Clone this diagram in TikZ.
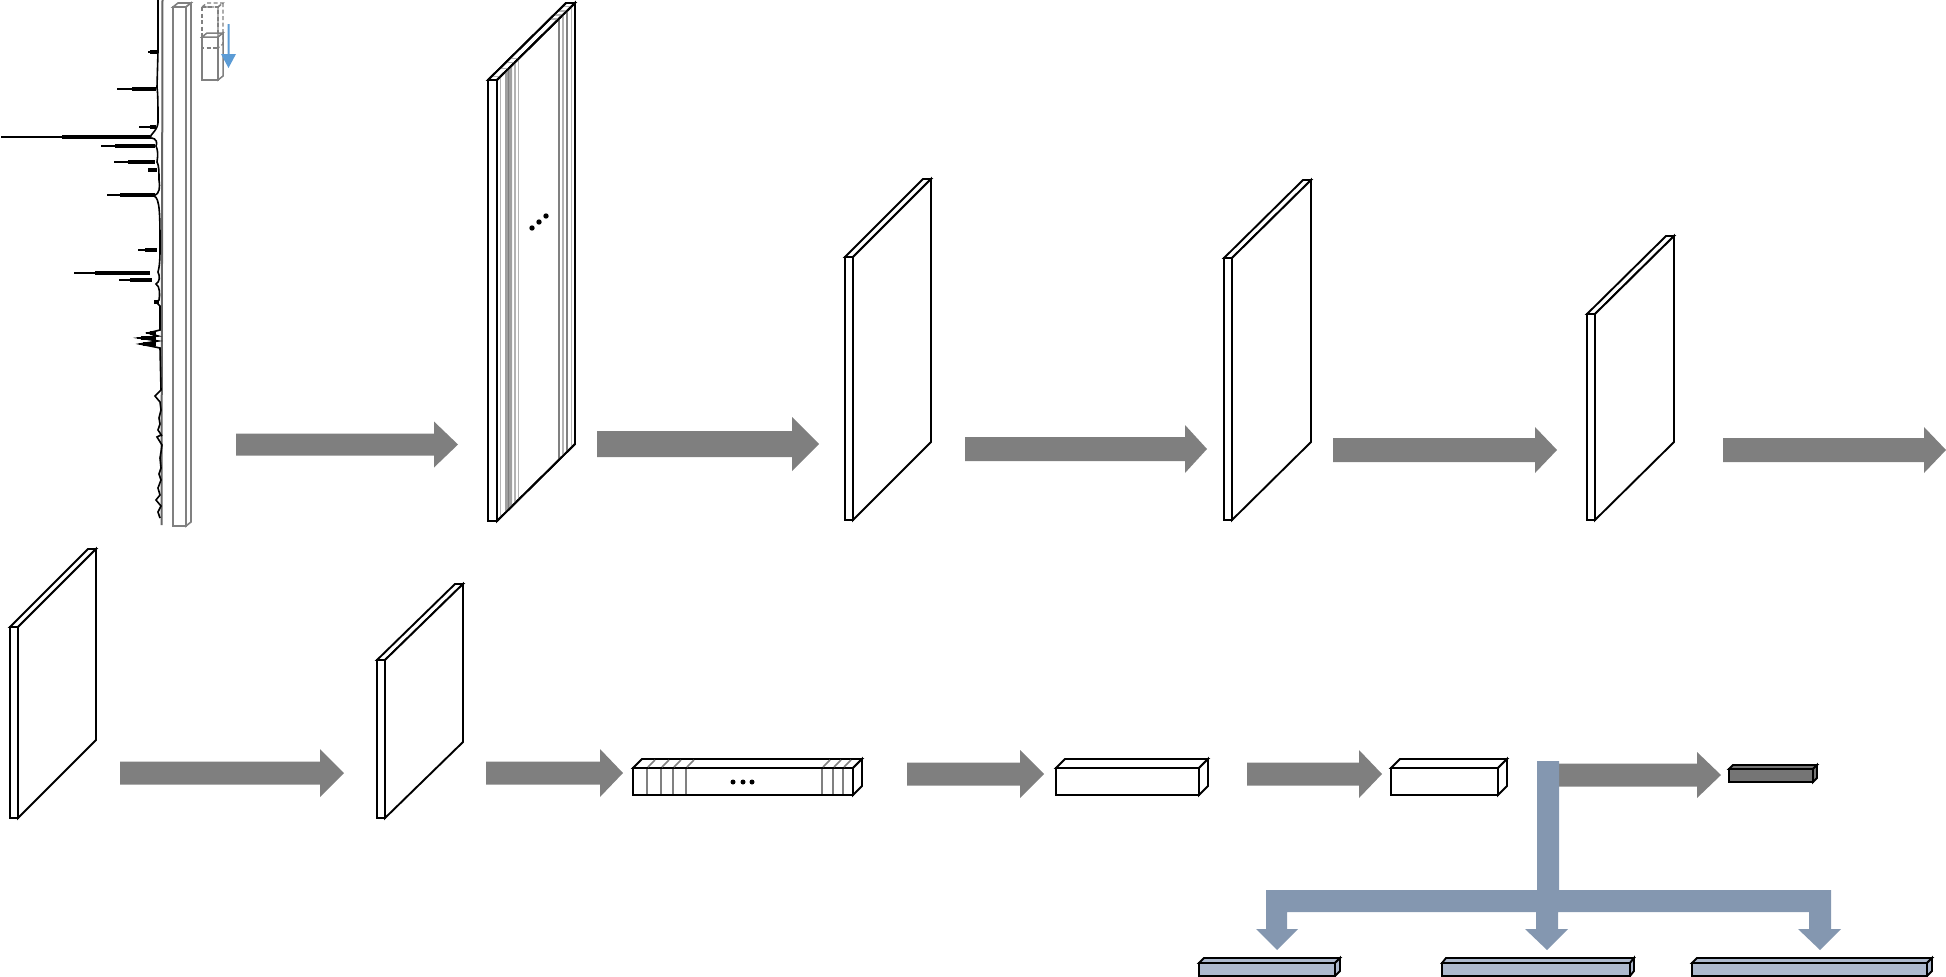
\documentclass[tikz,border=0pt]{standalone}
\definecolor{arrowgray}{HTML}{7F7F7F}
\definecolor{flowblue}{HTML}{8497B0}
\definecolor{barblue}{HTML}{ADB9CE}
\definecolor{darkbox}{HTML}{757575}
\definecolor{scanblue}{HTML}{5B9BD5}
\definecolor{linegray}{HTML}{808080}
\tikzset{
  edge/.style={draw=black,line width=1.9pt,line join=miter,fill=white},
  columnbox/.style={draw=linegray,line width=1.6pt,fill=white},
  dashbox/.style={draw=linegray,line width=1.4pt,dash pattern=on 4pt off 2.5pt,fill=none},
  slidebox/.style={draw=linegray,line width=1.5pt,fill=white},
  outbox/.style={draw=black,line width=1.9pt,fill=barblue},
  darkout/.style={draw=black,line width=1.9pt,fill=darkbox},
  stripe/.style={draw=linegray,line width=1.6pt},
  lightstripe/.style={draw=linegray!60,line width=1.4pt},
  flatarrow/.style={fill=arrowgray,draw=none},
  bluearrow/.style={fill=flowblue,draw=none},
  trace/.style={draw=black,line width=1.6pt},
  peakthin/.style={draw=black,line width=1.5pt},
  peakfat/.style={draw=black,line width=3.4pt},
  outline/.style={draw=black,line width=1.9pt,fill=none},
  dotmark/.style={fill=black,draw=none}
}
% box: style, x1, y1 (front top-left), x2, y2 (front bottom-right), dx, dy
\newcommand\cuboid[7]{%
  \path[#1] (#2,#3) rectangle (#4,#5);
  \path[#1] (#2,#3) -- (#2+#6,#3-#7) -- (#4+#6,#3-#7) -- (#4,#3) -- cycle;
  \path[#1] (#4,#3) -- (#4+#6,#3-#7) -- (#4+#6,#5-#7) -- (#4,#5) -- cycle;
}
% horizontal arrow: x0, yc, head start, tip, half shaft, half head
\newcommand\rarrow[6]{%
  \fill[flatarrow] (#1,#2-#5) -- (#3,#2-#5) -- (#3,#2-#6) -- (#4,#2) -- (#3,#2+#6) -- (#3,#2+#5) -- (#1,#2+#5) -- cycle;
}
% vertical stripe on the right face of the tall plate
\newcommand\platestripe[2]{%
  \draw[#1] (#2,{80-(#2-497)*0.987}) -- (#2,{521-(#2-497)*0.987});
  \draw[lightstripe] (#2,{80-(#2-497)*0.987}) -- ++(-8,0);
}
% spectrum peak: y, tip x, fat start x, base x
\newcommand\peak[4]{%
  \draw[peakthin] (#2,#1) -- (#4,#1);
  \draw[peakfat] (#3,#1) -- (#4,#1);
}
\begin{document}
\begin{tikzpicture}[x=1pt,y=-1pt]
\useasboundingbox (0,0) rectangle (1946,977);

% spectrum
\draw[draw=linegray!80!black,line width=2pt] (162.5,0) -- (161.5,525);
\draw[trace] (158,0) -- (158,50) .. controls (158,54) and (157,85) .. (157,88)
  .. controls (158,92) and (158,110) .. (158,120)
  .. controls (159,130) and (150,134) .. (150,138)
  .. controls (158,138) and (157,144) .. (156,146)
  .. controls (158,150) and (158,155) .. (157,162)
  .. controls (159,165) and (159,172) .. (159,180)
  .. controls (160,188) and (160,193) .. (154,196)
  .. controls (160,198) and (160,215) .. (160,248)
  .. controls (160,255) and (160,265) .. (158,272)
  .. controls (160,276) and (160,282) .. (156,284)
  .. controls (160,286) and (160,295) .. (159,300)
  -- (156,302) -- (160,306) -- (160,330)
  -- (148,333) -- (158,336) -- (139,338) -- (158,341) -- (140,344) -- (160,348) -- (161,390)
  -- (155,396) -- (160,402) -- (161,410) -- (159,418) -- (160,424) -- (158,430) -- (162,436)
  -- (161,435) -- (157,437) -- (162,445) -- (161,452) -- (160,458) -- (161,468)
  -- (159,474) -- (161,480) -- (158,488) -- (160,495) -- (156,500) -- (161,506) -- (158,512) -- (160,518);
\peak{52}{148}{150}{157}
\peak{89}{117}{132}{156}
\peak{127}{139}{150}{156}
\peak{137}{1}{62}{150}
\peak{146}{101}{115}{155}
\peak{162}{114}{128}{155}
\draw[peakfat] (148,170) -- (157,170);
\peak{195}{107}{120}{155}
\peak{250}{138}{145}{157}
\peak{273}{74}{95}{150}
\peak{280}{119}{130}{152}
\draw[peakfat] (154,302) -- (159,302);
\peak{333}{146}{150}{156}
\peak{338}{137}{141}{156}
\peak{344}{139}{143}{156}

% column and sliding window
\cuboid{columnbox}{173}{7}{186}{526}{5}{4}
\cuboid{slidebox}{202}{37}{218}{80}{5}{4}
\cuboid{dashbox}{202}{7}{218}{48}{5}{4}
\fill[scanblue] (227.5,24) -- (229.5,24) -- (229.5,54) -- (236,54) -- (228.5,68) -- (221,54) -- (227.5,54) -- cycle;

% tall plate with stripes
\cuboid{edge}{488}{80}{497}{521}{78}{77}
\fill[linegray!75] (505,72.1) -- (512,65.2) -- (512,506.2) -- (505,513.1) -- cycle;
\platestripe{lightstripe}{500.5}
\platestripe{stripe}{508.5}
\platestripe{lightstripe}{515}
\platestripe{lightstripe}{518.5}
\platestripe{stripe}{559}
\platestripe{lightstripe}{563}
\platestripe{stripe}{567}
\platestripe{lightstripe}{571.5}
\path[outline] (497,80) -- (575,3) -- (575,444) -- (497,521);
\path[outline] (488,80) -- (566,3) -- (575,3);
\fill[dotmark] (532,228) circle (2.7);
\fill[dotmark] (539,222) circle (2.7);
\fill[dotmark] (546,216) circle (2.7);

% plain plates
\cuboid{edge}{845}{257}{853}{520}{78}{78}
\cuboid{edge}{1224}{258}{1232}{520}{79}{78}
\cuboid{edge}{1587}{314}{1595}{520}{79}{78}
\cuboid{edge}{10}{627}{18}{818}{78}{78}
\cuboid{edge}{377}{660}{385}{818}{78}{76}

% striped bar
\cuboid{edge}{633}{768}{853}{795}{9}{9}
\foreach \sx in {647,661,673,686,822,833,843}{
  \draw[stripe] (\sx,769) -- (\sx,794);
  \draw[stripe] (\sx+1,767) -- (\sx+8,760);
}
\fill[dotmark] (733,782) circle (2.5);
\fill[dotmark] (743,782) circle (2.5);
\fill[dotmark] (752,782) circle (2.5);

% plain bars
\cuboid{edge}{1056}{768}{1199}{795}{9}{9}
\cuboid{edge}{1391}{768}{1498}{795}{9}{9}
\cuboid{darkout}{1729}{769}{1813}{782}{4}{4}
\cuboid{outbox}{1199}{963}{1335}{976}{5}{5}
\cuboid{outbox}{1442}{963}{1630}{976}{4}{5}
\cuboid{outbox}{1692}{963}{1927}{976}{5}{5}

% grey arrows
\rarrow{236}{444.5}{434}{458}{11}{23}
\rarrow{597}{444}{792}{819}{13}{27}
\rarrow{965}{449}{1185}{1207}{12}{24}
\rarrow{1333}{450}{1535}{1557}{12}{23}
\rarrow{1723}{450}{1924}{1946}{12}{23}
\rarrow{120}{773}{320}{344}{11.5}{24}
\rarrow{486}{773}{600}{623}{11.5}{24}
\rarrow{907}{774}{1020}{1044}{11.5}{24}
\rarrow{1247}{774}{1359}{1382}{11.5}{24}
\rarrow{1558}{775}{1697}{1721}{11.5}{23}

% blue branching arrows
\fill[bluearrow] (1537,761) -- (1559,761) -- (1559,890) -- (1831,890) -- (1831,929) -- (1841,929)
  -- (1820,950) -- (1798,929) -- (1809,929) -- (1809,912) -- (1558,912) -- (1558,929) -- (1568,929)
  -- (1547,950) -- (1525,929) -- (1536,929) -- (1536,912) -- (1287,912) -- (1287,929) -- (1298,929)
  -- (1277,950) -- (1256,929) -- (1266,929) -- (1266,890) -- (1537,890) -- cycle;
\end{tikzpicture}
\end{document}
